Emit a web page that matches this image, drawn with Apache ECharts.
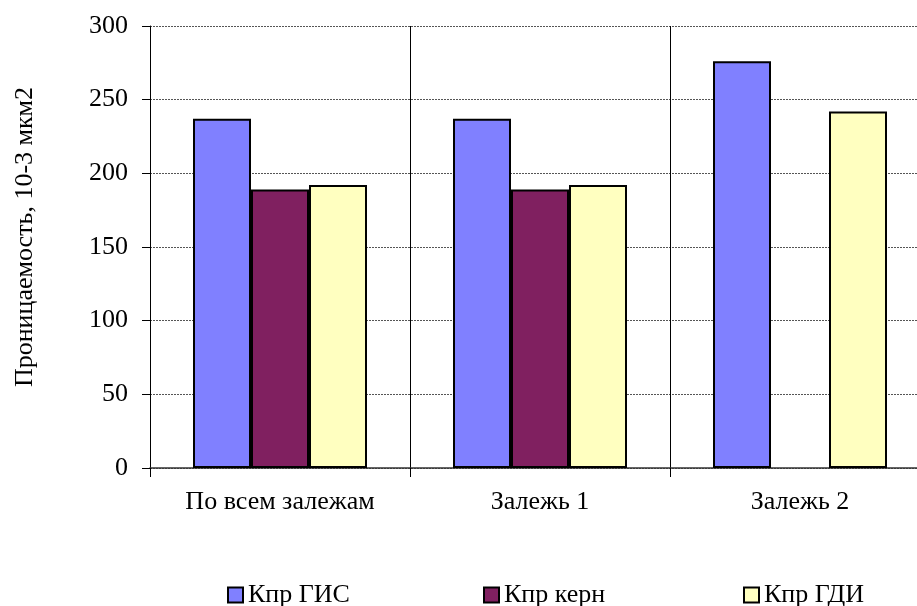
<!DOCTYPE html>
<html>
<head>
<meta charset="utf-8">
<script src="https://cdn.jsdelivr.net/npm/echarts@6/dist/echarts.min.js"></script>
<style>
  html, body { margin: 0; padding: 0; background: #fff; }
  #chart { width: 917px; height: 606px; }
</style>
</head>
<body>
<div id="chart"></div>
<script>
const categories = ['По всем залежам', 'Залежь 1', 'Залежь 2'];
const kprGis = [237, 237, 276];
const kprKern = [189, 189, null];
const kprGdi = [192, 192, 242];
const seriesNames = ['Кпр ГИС', 'Кпр керн', 'Кпр ГДИ'];
const yTicks = [0, 50, 100, 150, 200, 250, 300];

const chart = echarts.init(document.getElementById('chart'), null, { renderer: 'canvas' });
const font = 'Liberation Serif';
const colors = ['#8080FF', '#802060', '#FFFFC0'];
// the plot runs past the right edge of the picture, as in the original
const legendLefts = [227, 483, 743];

const option = {
  animation: false,
  textStyle: { fontFamily: font, color: '#000' },
  grid: { left: 150, width: 780, top: 26, height: 442, outerBoundsMode: 'none' },
  legend: seriesNames.map((name, i) => ({
    data: [name],
    left: legendLefts[i],
    top: 582,
    padding: 0,
    itemWidth: 15,
    itemHeight: 15,
    icon: 'rect',
    itemStyle: { borderColor: '#000', borderWidth: 2 },
    textStyle: { fontFamily: font, fontSize: 26, color: '#000' }
  })),
  xAxis: {
    type: 'category',
    data: categories,
    axisLine: { lineStyle: { color: '#333', width: 1.5 } },
    axisTick: { show: true, length: 9, lineStyle: { color: '#000' } },
    axisLabel: { fontFamily: font, fontSize: 26, color: '#000', margin: 21 },
    splitLine: { show: true, lineStyle: { color: '#000', width: 1 } }
  },
  yAxis: {
    type: 'value',
    min: yTicks[0],
    max: yTicks[yTicks.length - 1],
    interval: 50,
    name: 'Проницаемость, 10-3 мкм2',
    nameLocation: 'middle',
    nameGap: 112,
    nameTextStyle: { fontFamily: font, fontSize: 26, color: '#000', padding: [0, 0, 0, 20] },
    axisLine: { show: true, lineStyle: { color: '#000', width: 1 } },
    axisTick: { show: true, length: 8, lineStyle: { color: '#000' } },
    axisLabel: { fontFamily: font, fontSize: 26, color: '#000', margin: 22 },
    splitLine: { show: true, lineStyle: { color: '#555', type: [2, 1], width: 1 } }
  },
  series: [kprGis, kprKern, kprGdi].map((data, i) => ({
    name: seriesNames[i],
    type: 'bar',
    data: data,
    barWidth: 58,
    barGap: '0%',
    itemStyle: { color: colors[i], borderColor: '#000', borderWidth: 2 }
  }))
};

chart.setOption(option);
</script>
</body>
</html>
